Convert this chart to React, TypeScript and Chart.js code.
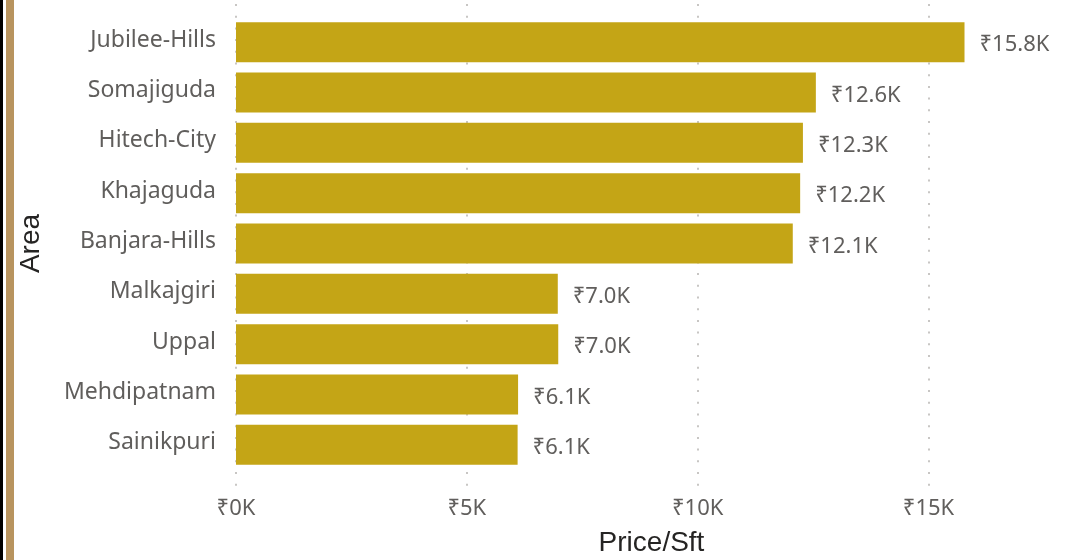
import React, { useEffect, useRef } from 'react';
import { Chart, registerables } from 'chart.js';

Chart.register(...registerables);

const areas = [
  'Jubilee-Hills',
  'Somajiguda',
  'Hitech-City',
  'Khajaguda',
  'Banjara-Hills',
  'Malkajgiri',
  'Uppal',
  'Mehdipatnam',
  'Sainikpuri',
];
const pricePerSft = [15780, 12560, 12280, 12220, 12060, 6970, 6980, 6110, 6100];
const xTickValues = [0, 5000, 10000, 15000];
const xAxisMax = 18000;

const FONT = "'Noto Sans', 'DejaVu Sans', sans-serif";
const TITLE_FONT = "'Liberation Sans', Arial, sans-serif";
const BAR_COLOR = '#C4A516';
const TEXT_GRAY = '#605E5C';
const TITLE_COLOR = '#252423';

const fmtK = (v: number, digits: number) => '₹' + (v / 1000).toFixed(digits) + 'K';

const dottedGrid = {
  id: 'dottedGrid',
  beforeDatasetsDraw(chart: any) {
    const xs = chart.scales.x;
    const ctx = chart.ctx;
    ctx.save();
    ctx.strokeStyle = '#C8C6C4';
    ctx.lineWidth = 2;
    ctx.setLineDash([2, 9.7]);
    xTickValues.forEach((v) => {
      const px = Math.round(xs.getPixelForValue(v));
      ctx.beginPath();
      ctx.moveTo(px, 4);
      ctx.lineTo(px, 487);
      ctx.stroke();
    });
    ctx.restore();
  },
};

const valueLabels = {
  id: 'valueLabels',
  afterDatasetsDraw(chart: any) {
    const ctx = chart.ctx;
    const meta = chart.getDatasetMeta(0);
    ctx.save();
    ctx.font = `22px ${FONT}`;
    ctx.fillStyle = TEXT_GRAY;
    ctx.textAlign = 'left';
    ctx.textBaseline = 'middle';
    meta.data.forEach((el: any, i: number) => {
      ctx.fillText(fmtK(pricePerSft[i], 1), el.x + 15, el.y + 3);
    });
    ctx.restore();
  },
};

export default function App() {
  const ref = useRef<HTMLCanvasElement | null>(null);

  useEffect(() => {
    if (!ref.current) return;
    const chart = new Chart(ref.current, {
      type: 'bar',
      data: {
        labels: areas,
        datasets: [
          {
            data: pricePerSft,
            backgroundColor: BAR_COLOR,
            barPercentage: 0.794,
            categoryPercentage: 1,
          },
        ],
      },
      options: {
        indexAxis: 'y',
        animation: false,
        responsive: false,
        maintainAspectRatio: false,
        layout: { padding: { top: 17, right: 10, left: 0, bottom: 0 } },
        plugins: {
          legend: { display: false },
          tooltip: { enabled: false },
        },
        scales: {
          x: {
            type: 'linear',
            min: 0,
            max: xAxisMax,
            grid: { display: false, drawTicks: false },
            border: { display: false },
            afterBuildTicks: (s: any) => {
              s.ticks = xTickValues.map((v) => ({ value: v }));
            },
            ticks: {
              autoSkip: false,
              maxRotation: 0,
              padding: 26,
              color: TEXT_GRAY,
              font: { family: FONT, size: 22 },
              callback: (v: any) => fmtK(Number(v), 0),
            },
            title: {
              display: true,
              text: 'Price/Sft',
              color: TITLE_COLOR,
              font: { family: TITLE_FONT, size: 28, weight: 'normal' },
              padding: { top: 0, bottom: 0 },
            },
            afterFit: (s: any) => {
              s.height = 90;
            },
          },
          y: {
            type: 'category',
            offset: true,
            grid: { display: false, drawTicks: false },
            border: { display: false },
            ticks: {
              padding: 20,
              labelOffset: -2,
              color: TEXT_GRAY,
              font: { family: FONT, size: 23 },
            },
            title: {
              display: true,
              text: 'Area',
              color: TITLE_COLOR,
              font: { family: TITLE_FONT, size: 28, weight: 'normal' },
              padding: { top: 14, bottom: 0 },
            },
            afterFit: (s: any) => {
              s.width = 236;
              s.paddingTop = 0;
              s.paddingBottom = 0;
            },
          },
        },
      },
      plugins: [dottedGrid, valueLabels],
    });
    return () => chart.destroy();
  }, []);

  return (
    <div style={{ position: 'fixed', left: 0, top: 0, width: 1077, height: 560, background: '#fff' }}>
      <canvas ref={ref} width={1077} height={560} style={{ position: 'absolute', left: 0, top: 0 }} />
      <div style={{ position: 'absolute', left: 0, top: 0, width: 3, height: 560, background: '#000' }} />
      <div style={{ position: 'absolute', left: 6, top: 0, width: 8, height: 560, background: '#B8945F' }} />
    </div>
  );
}
